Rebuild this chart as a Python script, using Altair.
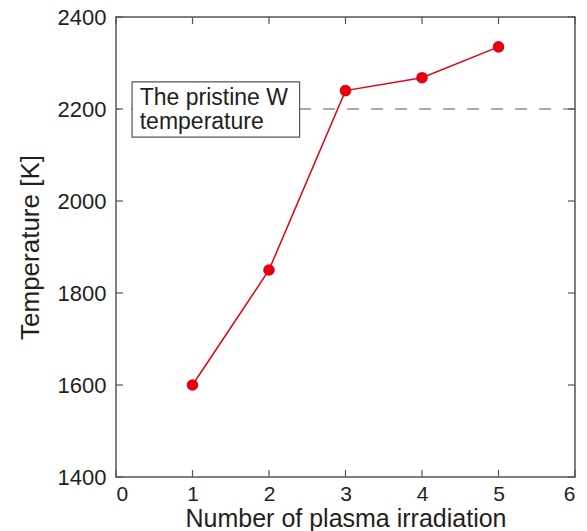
import altair as alt
import pandas as pd

# data
irradiation = [1, 2, 3, 4, 5]
temperature = [1600, 1850, 2240, 2268, 2335]

x_ticks = [0, 1, 2, 3, 4, 5, 6]
y_ticks = [1400, 1600, 1800, 2000, 2200, 2400]

pristine_temp = [2200]
note_text = ["The pristine W\ntemperature"]
note_x = [0.31]
note_box = {"x": [0.21], "x2": [2.4], "y": [2139], "y2": [2259]}

FONT = "Liberation Sans"
INK = "#231f20"
FRAME = "#555555"
RED = "#e60012"

W, H = 459, 460
TL = 7

df = pd.DataFrame({"n": irradiation, "t": temperature})
dfx = pd.DataFrame({"v": x_ticks})
dfy = pd.DataFrame({"v": y_ticks})
dfp = pd.DataFrame({"t": pristine_temp})
dfn = pd.DataFrame({"n": note_x, "t": pristine_temp, "label": note_text})
dfb = pd.DataFrame(note_box)

xs = alt.Scale(domain=[0, 6], nice=False, zero=False)
ys = alt.Scale(domain=[1400, 2400], nice=False, zero=False)

x_axis = alt.Axis(values=x_ticks, format="d", ticks=False, tickSize=0, domain=False, grid=False,
                  labelFont=FONT, labelFontSize=21, labelColor=INK, labelPadding=6,
                  title="Number of plasma irradiation", titleFont=FONT, titleFontSize=25,
                  titleFontWeight="normal", titleColor=INK, titlePadding=2)
y_axis = alt.Axis(values=y_ticks, format="d", ticks=False, tickSize=0, domain=False, grid=False,
                  labelFont=FONT, labelFontSize=22, labelColor=INK, labelPadding=10,
                  title="Temperature [K]", titleFont=FONT, titleFontSize=26,
                  titleFontWeight="normal", titleColor=INK, titlePadding=14)

def X(f):
    return alt.X(f"{f}:Q", scale=xs, axis=x_axis)

def Y(f):
    return alt.Y(f"{f}:Q", scale=ys, axis=y_axis)

dash = alt.Chart(dfp).mark_rule(color=FRAME, strokeWidth=1.2, strokeDash=[12, 12]).encode(y=Y("t"))

box = alt.Chart(dfb).mark_rect(fill="white", stroke=FRAME, strokeWidth=1.2).encode(
    x=X("x"), x2="x2", y=Y("y"), y2="y2")

note = alt.Chart(dfn).mark_text(align="left", baseline="middle", font=FONT, fontSize=23, dy=-11,
                                color=INK, lineBreak="\n", lineHeight=24).encode(
    x=X("n"), y=Y("t"), text="label:N")

line = alt.Chart(df).mark_line(color=RED, strokeWidth=1.5).encode(x=X("n"), y=Y("t"))
pts = alt.Chart(df).mark_point(filled=True, color=RED, size=135, opacity=1).encode(x=X("n"), y=Y("t"))

tick_style = dict(color=FRAME, strokeWidth=1.2)
xb = alt.Chart(dfx).mark_rule(**tick_style).encode(x=X("v"), y=alt.value(H), y2=alt.value(H - TL))
xt = alt.Chart(dfx).mark_rule(**tick_style).encode(x=X("v"), y=alt.value(0), y2=alt.value(TL))
yl = alt.Chart(dfy).mark_rule(**tick_style).encode(y=Y("v"), x=alt.value(0), x2=alt.value(TL))
yr = alt.Chart(dfy).mark_rule(**tick_style).encode(y=Y("v"), x=alt.value(W), x2=alt.value(W - TL))

chart = alt.layer(dash, box, note, line, pts, xb, xt, yl, yr).properties(
    width=W, height=H,
    autosize=alt.AutoSizeParams(type="none"),
    padding={"left": 108, "top": 9, "right": 4, "bottom": 54},
    background="white",
).configure_view(stroke=FRAME, strokeWidth=1.5)

chart.save("out.html", embed_options={"renderer": "svg", "actions": False})
